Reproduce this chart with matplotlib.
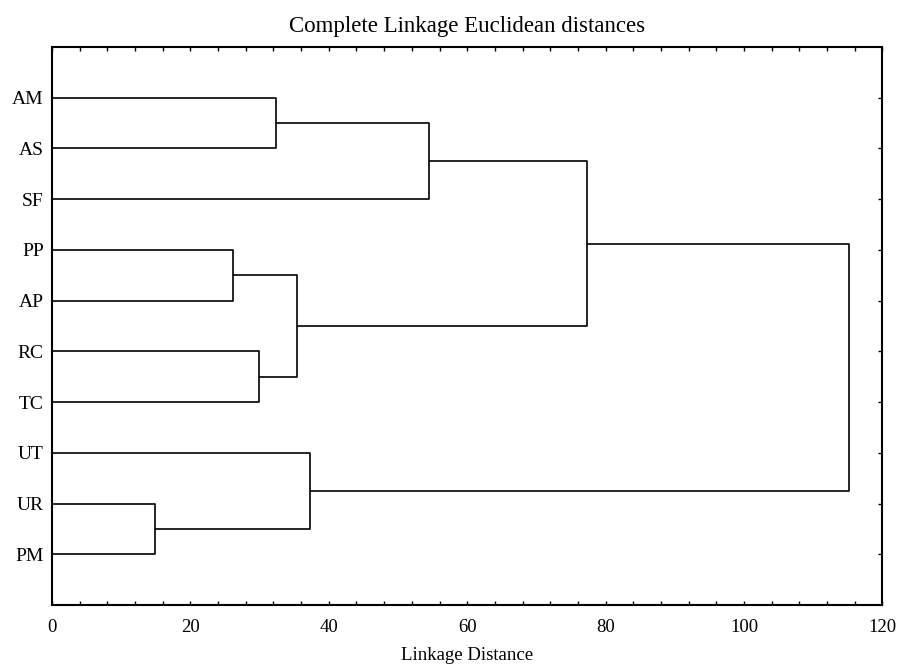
import matplotlib
matplotlib.use("Agg")
import matplotlib.pyplot as plt
from matplotlib.ticker import MultipleLocator

# leaves from top to bottom
labels = ["AM", "AS", "SF", "PP", "AP", "RC", "TC", "UT", "UR", "PM"]

# merges: (cluster a, cluster b, linkage distance); new clusters get ids 10, 11, ...
merge_a = [0, 10, 3, 5, 12, 11, 8, 7, 15]
merge_b = [1, 2, 4, 6, 13, 14, 9, 16, 17]
heights = [32.4, 54.5, 26.2, 29.9, 35.4, 77.3, 14.9, 37.3, 115.1]

plt.rcParams['font.family'] = ['Liberation Serif', 'DejaVu Serif']

fig = plt.figure(figsize=(9.01, 6.66), dpi=100)
ax = fig.add_axes([0.0577, 0.0916, 0.9217, 0.8378])

# position and height of every cluster
pos = {i: i + 1 for i in range(len(labels))}
hgt = {i: 0.0 for i in range(len(labels))}
for k, (a, b, h) in enumerate(zip(merge_a, merge_b, heights)):
    new = len(labels) + k
    ax.plot([hgt[a], h, h, hgt[b]], [pos[a], pos[a], pos[b], pos[b]],
            color='black', lw=1.2, solid_capstyle='butt')
    pos[new] = (pos[a] + pos[b]) / 2
    hgt[new] = h

ax.set_xlim(0, 120)
ax.set_ylim(len(labels) + 1, 0)
ax.set_yticks(range(1, len(labels) + 1))
ax.set_yticklabels(labels)
ax.xaxis.set_major_locator(MultipleLocator(20))
ax.xaxis.set_minor_locator(MultipleLocator(4))
ax.tick_params(axis='x', which='both', direction='in', top=True, bottom=True,
               length=3, width=1, labelsize=13.5, pad=10)
ax.tick_params(axis='y', direction='in', left=False, right=True,
               length=3, width=1, labelsize=14, pad=6)
for s in ax.spines.values():
    s.set_linewidth(1.5)

ax.set_title("Complete Linkage Euclidean distances", fontsize=16.5, pad=11)
ax.set_xlabel("Linkage Distance", fontsize=13.5, labelpad=8)

fig.savefig("out.png", dpi=100)
